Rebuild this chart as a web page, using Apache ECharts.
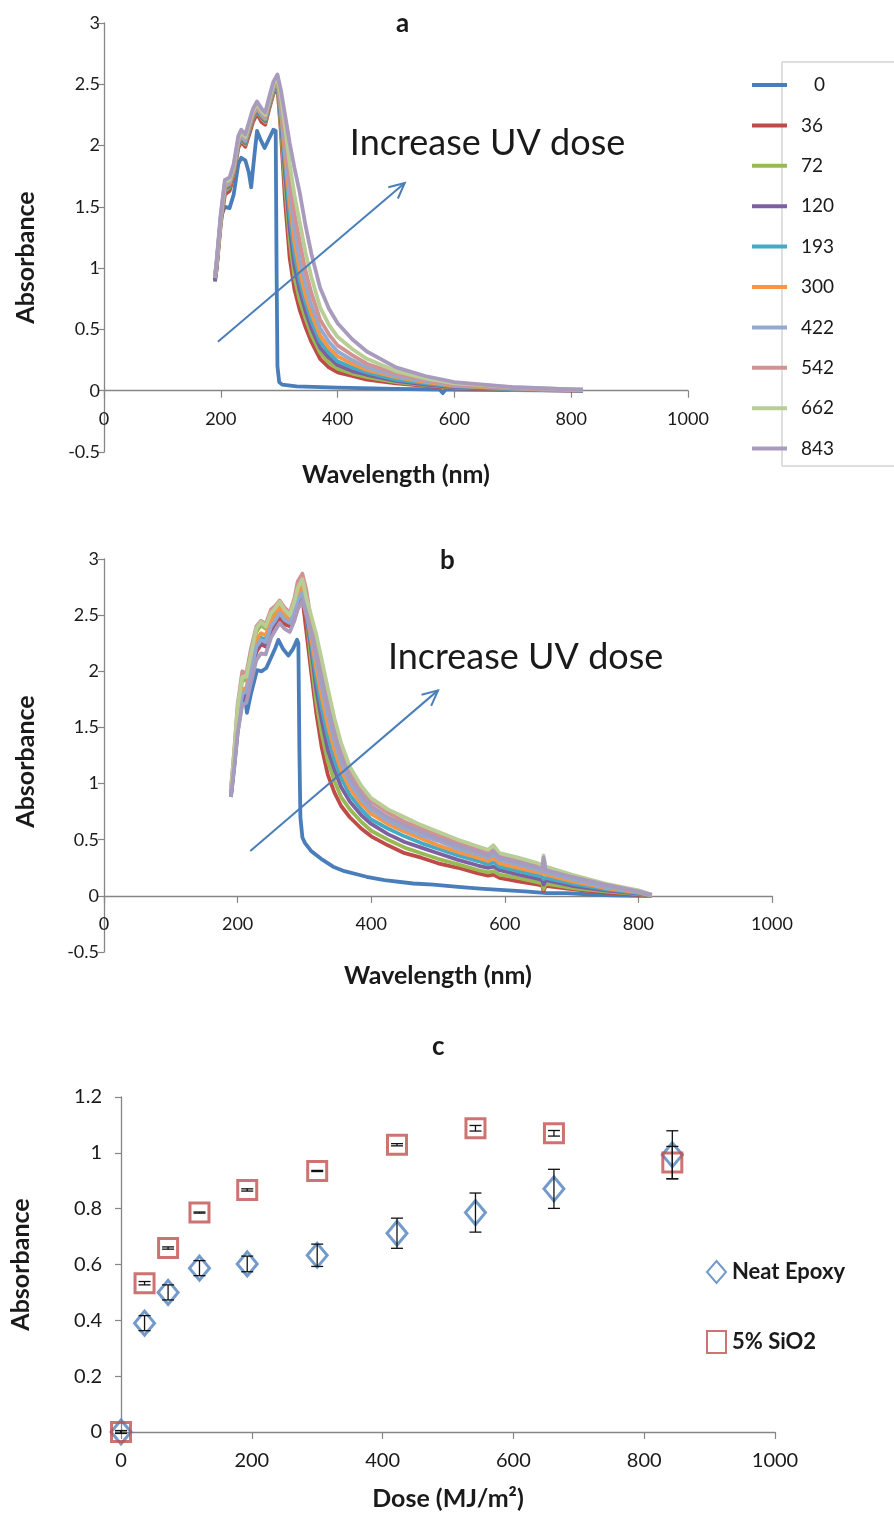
<!DOCTYPE html>
<html><head><meta charset="utf-8">
<script src="https://cdn.jsdelivr.net/npm/echarts@6/dist/echarts.min.js"></script>
<style>html,body{margin:0;padding:0;background:#fff}#c{width:894px;height:1518px}</style>
</head><body><div id="c"></div>
<script>
// ---------- legend / doses ----------
const doses = ['0','36','72','120','193','300','422','542','662','843'];
const colors = ['#4A7EBB','#BE4B48','#98B954','#7D60A0','#46AAC5','#F69544','#93A9CF','#D19392','#B9CD96','#A99BBD'];

// ---------- panel a : neat epoxy spectra ----------
const wlA0 = [190,193,200,207,215,222,230,235,242,248,252,256,262,268,275,283,290,294,295.5,297,300,305,330,400,500,575,580,585,600,700,800,820];
const absA0 = [0.89,1.0,1.42,1.5,1.49,1.6,1.85,1.9,1.88,1.78,1.66,1.85,2.12,2.05,1.98,2.06,2.13,2.12,1.0,0.2,0.07,0.05,0.035,0.025,0.015,0.01,-0.02,0.01,0.01,0.005,0.0,0.0];
const wlA = [190,193,200,207,215,222,230,235,242,250,255,262,270,276,283,290,297,303,310,318,326,335,345,355,370,385,400,425,450,500,550,600,650,700,750,800,820];
const absA36 = [0.9,1.0,1.36,1.6,1.63,1.75,1.98,2.03,1.99,2.11,2.19,2.26,2.19,2.17,2.3,2.42,2.48,2.10,1.55,1.08,0.83,0.66,0.52,0.40,0.26,0.19,0.15,0.12,0.09,0.06,0.04,0.02,0.015,0.01,0.005,0,0];
const absA72 = [0.91,1.02,1.38,1.63,1.66,1.77,2.0,2.05,2.01,2.14,2.22,2.28,2.22,2.19,2.32,2.44,2.5,2.15,1.68,1.22,0.93,0.74,0.59,0.46,0.31,0.23,0.18,0.14,0.11,0.07,0.045,0.025,0.02,0.01,0.01,0.005,0];
const absA120 = [0.91,1.03,1.39,1.65,1.67,1.78,2.01,2.06,2.02,2.15,2.23,2.29,2.23,2.2,2.33,2.45,2.51,2.20,1.78,1.32,1.02,0.82,0.65,0.51,0.35,0.27,0.21,0.16,0.13,0.08,0.05,0.03,0.02,0.015,0.01,0.005,0];
const absA193 = [0.92,1.04,1.4,1.66,1.68,1.79,2.02,2.07,2.03,2.16,2.24,2.3,2.24,2.21,2.34,2.46,2.52,2.24,1.86,1.42,1.12,0.90,0.72,0.57,0.40,0.31,0.24,0.19,0.15,0.09,0.06,0.035,0.025,0.015,0.01,0.005,0];
const absA300 = [0.92,1.04,1.4,1.67,1.69,1.8,2.03,2.08,2.04,2.17,2.25,2.31,2.25,2.22,2.35,2.47,2.53,2.28,1.93,1.53,1.22,0.98,0.78,0.63,0.45,0.35,0.28,0.22,0.17,0.11,0.07,0.04,0.03,0.02,0.01,0.005,0.005];
const absA422 = [0.92,1.05,1.41,1.68,1.7,1.81,2.04,2.09,2.05,2.18,2.26,2.32,2.26,2.23,2.36,2.48,2.54,2.32,2.00,1.62,1.32,1.08,0.87,0.70,0.51,0.40,0.32,0.25,0.19,0.12,0.08,0.045,0.035,0.02,0.015,0.01,0.005];
const absA542 = [0.93,1.05,1.42,1.69,1.71,1.82,2.05,2.1,2.06,2.19,2.27,2.33,2.27,2.24,2.37,2.49,2.55,2.36,2.07,1.73,1.45,1.22,0.98,0.80,0.58,0.46,0.37,0.29,0.22,0.14,0.09,0.05,0.04,0.025,0.015,0.01,0.005];
const absA662 = [0.93,1.06,1.43,1.7,1.72,1.83,2.06,2.11,2.07,2.2,2.28,2.34,2.28,2.25,2.38,2.5,2.56,2.40,2.15,1.85,1.60,1.38,1.13,0.93,0.68,0.54,0.44,0.34,0.26,0.16,0.10,0.06,0.045,0.03,0.02,0.01,0.01];
const absA843 = [0.93,1.07,1.45,1.72,1.74,1.85,2.08,2.13,2.09,2.22,2.30,2.36,2.30,2.27,2.40,2.52,2.58,2.45,2.25,2.02,1.82,1.62,1.35,1.12,0.84,0.67,0.55,0.42,0.32,0.19,0.12,0.07,0.05,0.03,0.02,0.01,0.01];

// ---------- panel b : 5% SiO2 spectra ----------
const wlB0 = [190,195,200,207,211,214,220,229,236,243,250,256,261,268,276,283,289,291,292.5,294,297,301,310,325,343,360,393,420,463,493,530,563,593,630,663,693,730,762,800,820];
const absB0 = [0.88,1.15,1.45,1.75,1.78,1.63,1.8,2.01,2.0,2.03,2.12,2.2,2.28,2.2,2.14,2.2,2.28,2.25,1.3,0.7,0.52,0.47,0.4,0.33,0.26,0.22,0.17,0.14,0.11,0.1,0.08,0.065,0.053,0.04,0.024,0.024,0.012,0.005,0,0];
const wlB = [190,195,200,207,213,220,228,235,242,250,256,263,270,278,285,290,297,303,310,318,326,335,345,355,368,385,400,425,450,475,500,530,560,575,583,592,620,650,656,658,661,700,750,800,820];
const absB36 = [0.9,1.2,1.5,1.75,1.78,1.96,2.17,2.24,2.22,2.36,2.42,2.48,2.42,2.4,2.5,2.6,2.65,2.35,2.0,1.62,1.32,1.08,0.92,0.8,0.7,0.6,0.53,0.45,0.38,0.34,0.29,0.25,0.2,0.18,0.19,0.16,0.13,0.1,0.09,0.04,0.09,0.06,0.03,0.01,0];
const absB72 = [0.93,1.26,1.65,1.92,1.92,2.12,2.35,2.41,2.38,2.5,2.54,2.6,2.53,2.48,2.6,2.72,2.78,2.5,2.1,1.72,1.44,1.2,1.02,0.88,0.77,0.66,0.58,0.5,0.43,0.38,0.33,0.28,0.23,0.21,0.22,0.19,0.16,0.12,0.11,0.06,0.11,0.07,0.04,0.015,0];
const absB120 = [0.9,1.18,1.5,1.76,1.78,1.97,2.2,2.26,2.24,2.38,2.44,2.52,2.46,2.43,2.53,2.64,2.72,2.5,2.2,1.83,1.56,1.3,1.12,0.97,0.84,0.72,0.64,0.55,0.48,0.43,0.38,0.32,0.27,0.25,0.26,0.23,0.19,0.15,0.14,0.1,0.14,0.09,0.05,0.02,0];
const absB193 = [0.9,1.2,1.55,1.8,1.82,2.02,2.24,2.3,2.28,2.42,2.47,2.54,2.48,2.45,2.55,2.65,2.72,2.52,2.25,1.93,1.67,1.42,1.21,1.05,0.9,0.77,0.68,0.6,0.53,0.47,0.42,0.36,0.31,0.28,0.3,0.26,0.22,0.18,0.17,0.15,0.16,0.11,0.06,0.025,0];
const absB300 = [0.92,1.22,1.58,1.84,1.85,2.05,2.28,2.34,2.32,2.45,2.5,2.57,2.5,2.47,2.58,2.68,2.75,2.55,2.3,2.02,1.77,1.52,1.3,1.12,0.96,0.82,0.73,0.64,0.57,0.51,0.45,0.39,0.34,0.31,0.34,0.29,0.25,0.21,0.2,0.22,0.19,0.13,0.07,0.03,0];
const absB422 = [0.9,1.2,1.55,1.8,1.82,2.0,2.22,2.28,2.26,2.4,2.45,2.52,2.46,2.43,2.53,2.63,2.7,2.55,2.35,2.1,1.86,1.62,1.38,1.19,1.01,0.86,0.77,0.67,0.6,0.54,0.49,0.42,0.37,0.34,0.37,0.32,0.28,0.23,0.22,0.27,0.21,0.15,0.08,0.035,0.005];
const absB542 = [0.95,1.3,1.7,2.0,1.98,2.2,2.4,2.45,2.42,2.55,2.58,2.63,2.57,2.52,2.65,2.8,2.87,2.72,2.45,2.24,2.02,1.77,1.51,1.3,1.1,0.94,0.84,0.74,0.66,0.6,0.54,0.47,0.41,0.38,0.42,0.36,0.32,0.27,0.25,0.32,0.24,0.18,0.1,0.045,0.01];
const absB662 = [0.95,1.28,1.68,1.95,1.95,2.15,2.38,2.44,2.4,2.52,2.56,2.62,2.55,2.5,2.62,2.74,2.82,2.65,2.5,2.32,2.1,1.85,1.58,1.36,1.15,0.98,0.87,0.77,0.7,0.63,0.57,0.5,0.44,0.41,0.45,0.38,0.34,0.29,0.27,0.36,0.26,0.19,0.11,0.05,0.01];
const absB843 = [0.88,1.15,1.45,1.7,1.72,1.9,2.1,2.16,2.15,2.3,2.36,2.43,2.38,2.35,2.45,2.55,2.63,2.5,2.35,2.15,1.93,1.68,1.44,1.24,1.05,0.9,0.8,0.7,0.63,0.57,0.51,0.45,0.39,0.36,0.4,0.34,0.3,0.25,0.24,0.34,0.23,0.17,0.1,0.04,0.01];

// ---------- panel c : absorbance vs dose ----------
const doseC = [0,36,72,120,193,300,422,542,662,843];
const neatAbs = [0,0.39,0.50,0.587,0.602,0.633,0.712,0.786,0.871,0.993];
const neatErr = [0.005,0.027,0.027,0.027,0.028,0.04,0.054,0.07,0.07,0.086];
const sio2Abs = [0,0.533,0.659,0.786,0.867,0.935,1.029,1.088,1.07,0.965];
const sio2Err = [0.005,0.006,0.004,0.002,0.004,0.002,0.004,0.01,0.01,0.058];

// annotation anchors (data units)
const arrowA = [[195,0.40],[515,1.695]];
const arrowB = [[219,0.40],[500,1.83]];
const noteA = [421,2.02];
const noteB = [425,2.12];

const FONT = 'Lato, "Open Sans", sans-serif';
const AX = '#868686', TXT = '#1a1a1a';
const plain = function(v){ return String(v); };

function xAx(gi, gap, name, fs, off){
  return {gridIndex:gi, type:'value', min:0, max:1000, interval:200, name:name, nameLocation:'middle', nameGap:gap,
    offset:off,
    nameTextStyle:{fontFamily:FONT, fontWeight:'bold', fontSize:25, color:TXT},
    axisLine:{show:true, onZero:false, lineStyle:{color:AX, width:1.3}},
    axisTick:{show:true, inside:false, length:7, lineStyle:{color:AX, width:1.2}},
    axisLabel:{margin:19, fontFamily:FONT, fontSize:fs, color:TXT, formatter:plain},
    splitLine:{show:false}};
}
function yAx(gi, min, max, itv, gap, pad, margin, fs){
  return {gridIndex:gi, type:'value', min:min, max:max, interval:itv, name:'Absorbance', nameLocation:'middle', nameGap:gap,
    nameTextStyle:{fontFamily:FONT, fontWeight:'bold', fontSize:25, color:TXT, padding:pad},
    axisLine:{show:true, onZero:false, lineStyle:{color:AX, width:1.3}},
    axisTick:{show:true, inside:false, length:6, lineStyle:{color:AX, width:1.2}},
    axisLabel:{margin:margin, fontFamily:FONT, fontSize:fs, color:TXT, formatter:plain},
    splitLine:{show:false}};
}

const aSets = [[wlA0,absA0],[wlA,absA36],[wlA,absA72],[wlA,absA120],[wlA,absA193],[wlA,absA300],[wlA,absA422],[wlA,absA542],[wlA,absA662],[wlA,absA843]];
const bSets = [[wlB0,absB0],[wlB,absB36],[wlB,absB72],[wlB,absB120],[wlB,absB193],[wlB,absB300],[wlB,absB422],[wlB,absB542],[wlB,absB662],[wlB,absB843]];

const series = [];
aSets.forEach((s,i)=>series.push({type:'line', name:doses[i], xAxisIndex:0, yAxisIndex:0,
  data:s[0].map((w,j)=>[w,s[1][j]]), showSymbol:false, symbol:'none', silent:true,
  lineStyle:{color:colors[i], width:3.8, join:'round'}, itemStyle:{color:colors[i]}}));
bSets.forEach((s,i)=>series.push({type:'line', name:doses[i], xAxisIndex:1, yAxisIndex:1,
  data:s[0].map((w,j)=>[w,s[1][j]]), showSymbol:false, symbol:'none', silent:true,
  lineStyle:{color:colors[i], width:3.8, join:'round'}, itemStyle:{color:colors[i]}}));

series.push({type:'scatter', name:'Neat Epoxy', xAxisIndex:2, yAxisIndex:2, silent:true,
  data:doseC.map((d,i)=>[d,neatAbs[i]]), symbol:'diamond', symbolSize:[20,24],
  itemStyle:{color:'rgba(255,255,255,0)', borderColor:'#4F81BD', borderWidth:3}, z:3});
series.push({type:'scatter', name:'5% SiO2', xAxisIndex:2, yAxisIndex:2, silent:true,
  data:doseC.map((d,i)=>[d,sio2Abs[i]]), symbol:'rect', symbolSize:19,
  itemStyle:{color:'rgba(255,255,255,0)', borderColor:'#C0504D', borderWidth:3}, z:3});

function errBars(vals, errs){
  return {type:'custom', xAxisIndex:2, yAxisIndex:2, silent:true, z:5,
    data:doseC.map((d,i)=>[d, vals[i]-errs[i], vals[i]+errs[i]]),
    encode:{x:0, y:[1,2]},
    renderItem:function(params, api){
      const x = api.value(0);
      const lo = api.coord([x, api.value(1)]);
      const hi = api.coord([x, api.value(2)]);
      const w = 6, st = {stroke:'#111', lineWidth:1.3};
      return {type:'group', children:[
        {type:'line', shape:{x1:lo[0],y1:lo[1],x2:hi[0],y2:hi[1]}, style:st},
        {type:'line', shape:{x1:lo[0]-w,y1:lo[1],x2:lo[0]+w,y2:lo[1]}, style:st},
        {type:'line', shape:{x1:hi[0]-w,y1:hi[1],x2:hi[0]+w,y2:hi[1]}, style:st}
      ]};
    }};
}
series.push(errBars(neatAbs, neatErr));
series.push(errBars(sio2Abs, sio2Err));

const chart = echarts.init(document.getElementById('c'), null, {renderer:'canvas'});
chart.setOption({
  animation:false,
  backgroundColor:'#fff',
  title:[
    {text:'a', left:391, top:6, textStyle:{fontFamily:FONT, fontWeight:'bold', fontSize:26, color:TXT}},
    {text:'b', left:435, top:543, textStyle:{fontFamily:FONT, fontWeight:'bold', fontSize:26, color:TXT}},
    {text:'c', left:427, top:1029, textStyle:{fontFamily:FONT, fontWeight:'bold', fontSize:26, color:TXT}}
  ],
  grid:[
    {left:104, top:23, width:584, height:429, outerBoundsMode:'none'},
    {left:104, top:559, width:668, height:393, outerBoundsMode:'none'},
    {left:121, top:1097, width:654, height:335, outerBoundsMode:'none'}
  ],
  xAxis:[ xAx(0, 72, 'Wavelength (nm)', 18, -61.3), xAx(1, 68, 'Wavelength (nm)', 18, -56.1), xAx(2, 54, 'Dose (MJ/m²)', 20, 0) ],
  yAxis:[ yAx(0, -0.5, 3, 0.5, 66, [0,40,0,0], 4, 18), yAx(1, -0.5, 3, 0.5, 66, [0,12,0,0], 5, 18), yAx(2, 0, 1.2, 0.2, 88, [0,0,0,0], 19, 20) ],
  legend:[
    {data:doses, orient:'vertical', left:747, top:69, itemWidth:35, itemHeight:4, itemGap:18.4, icon:'rect', selectedMode:false,
     textStyle:{fontFamily:FONT, fontSize:19, color:TXT, lineHeight:22, padding:[0,0,0,9],
       rich:{p:{fontFamily:FONT, fontSize:19, color:TXT, padding:[0,0,0,13]}}},
     formatter:function(n){ return n==='0' ? '{p|0}' : n; }},
    {data:['Neat Epoxy','5% SiO2'], orient:'vertical', left:701, top:1255, itemWidth:19, itemHeight:22, itemGap:46, selectedMode:false,
     textStyle:{fontFamily:FONT, fontSize:22, fontWeight:'bold', color:TXT, lineHeight:24, padding:[0,0,0,1]}}
  ],
  series:series
});

function px(gi, p){ return chart.convertToPixel({xAxisIndex:gi, yAxisIndex:gi}, p); }
function arrow(gi, a){
  const s = px(gi, a[0]), e = px(gi, a[1]);
  const ang = Math.atan2(e[1]-s[1], e[0]-s[0]);
  const L = 17, spread = 0.45, st = {stroke:'#4A7EBB', lineWidth:2};
  const h1 = [e[0]-L*Math.cos(ang-spread), e[1]-L*Math.sin(ang-spread)];
  const h2 = [e[0]-L*Math.cos(ang+spread), e[1]-L*Math.sin(ang+spread)];
  return [
    {type:'line', shape:{x1:s[0],y1:s[1],x2:e[0],y2:e[1]}, style:st, z:50},
    {type:'polyline', shape:{points:[h1,e,h2]}, style:Object.assign({fill:null},st), z:50}
  ];
}
function note(gi, p){
  const q = px(gi, p);
  return {type:'text', x:q[0], y:q[1], z:50, style:{text:'Increase UV dose', fontFamily:FONT, fontSize:36, fill:TXT, verticalAlign:'middle', align:'left'}};
}
chart.setOption({graphic:[
  {type:'rect', shape:{x:782, y:62, width:140, height:404}, style:{fill:null, stroke:'#bfbfbf', lineWidth:1}, z:1},
  ...arrow(0, arrowA), ...arrow(1, arrowB), note(0, noteA), note(1, noteB)
]});
</script>
</body></html>
